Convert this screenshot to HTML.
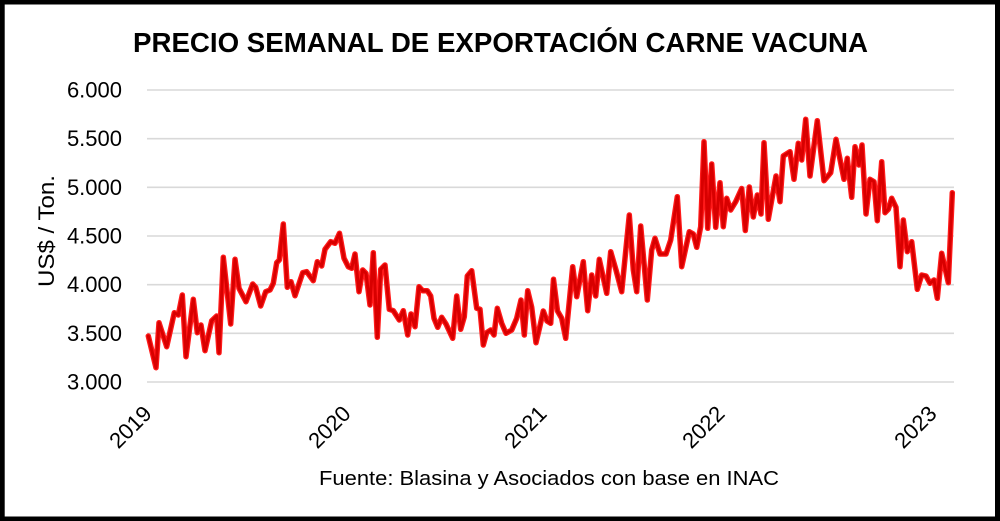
<!DOCTYPE html>
<html>
<head>
<meta charset="utf-8">
<style>
html,body{margin:0;padding:0;background:#fff;}
body{width:1000px;height:521px;overflow:hidden;}
svg{display:block;}
text{font-family:"Liberation Sans",Arial,sans-serif;fill:#000;}
</style>
</head>
<body>
<svg width="1000" height="521" viewBox="0 0 1000 521" xmlns="http://www.w3.org/2000/svg">
  <defs>
    <polyline id="series" fill="none" stroke-linejoin="round" stroke-linecap="round" points="
148.3,336 156,367.7 159,322.7 166.7,346.7 174.3,312.7 178.3,315 182.3,295 186,356.7 193.3,299.3 197.3,332.7 201,325 205,350.7 211.7,320.7 216.7,316 219,352.7 223.3,257.3 230.7,324 235,259.3 239,288.3 246,301.7 252.7,284 255.7,287.3 260.7,306 265.7,291.7 270,290 273.3,283.3 276.7,262.7 279.3,260 283.3,224 287.3,287.3 291,281.7 295,295.7 302.7,272.7 306.7,271.7 313.3,280.7 317.3,261.7 321.7,266 325,249.3 330.7,241.7 335,243.3 339.5,233.3
344,258.3 348.3,266.7 351.7,268.3 355,254 359,291.7 362.7,270 366,273.3 370,305 373.3,252.7 377.3,337.3 380.7,269.3 385,265 389.3,309.3 393.3,310.7 399.3,320 403.3,310.7 407.7,335 411,314 415,326.7 419,286.7 422.7,290.7 427.3,290.7 430.7,296 434,318.3 437.7,327.3 441.7,317.3 446,324 452.7,338.3 456.7,296 460.7,329.3 464.3,316.7 467.3,276 471.7,270.7 476.7,308.3 480,309.3 483.3,345 486.7,332.7 490.7,330 494,335 497.3,308.3 501.7,323.3 506,333.3 511.7,330 516.7,318.3 521,300 524.3,335 527.7,290.7 531.7,307.3 536,342.7 539.5,328
543.3,311 547,321 550.7,323.3 553.5,279.3 557.5,311 561.7,318.3 565.7,338.3 572.7,266.7 576.7,296.7 583.3,261.7 587.7,310.7 591.7,275 595.7,296 599.3,259.3 606.7,293.3 610.7,251.7 616,270 621.7,291.7 629.3,215 633.3,270 636.7,291.7 640.7,226 647.3,300 651.7,250 655,238.3 660,254 666,254 670.7,240 677.3,196.7 681.7,266.7 689.3,231.7 693.3,234 696.7,247.3 700.7,226.7 704,141.7 707.7,228.3 711.7,164 715.7,227.3 720,182.7 723.3,226.7 726.7,198.3 730.7,210 735.7,201.7
741.7,188.5 745.3,230.5 749.3,187 753.3,217 757.3,195 761,214 764,142.7 768.3,219.3 776,176 780,201.7 783.3,156 790,151.7 794,179.3 798.3,143.3 801.7,160 805.7,119.3 810,176 817.3,120.7 824,180.7 830.7,172.7 836,139.3 844,179.3 847.3,158.3 851.7,197.3 855,146.7 859,165 862,145 866,214 870,179.3 874,181.7 877.3,220.7 881.7,161.7 885,212.7 888.3,209.3 891.7,198.3 896,207.3 900,266.7 903.3,220 907.3,251.7 911.7,241.7 917.3,289.3 921.7,275 926,276 930,283.3 934,280 937.3,298.3 941.7,253.3 948.3,282.7 952.3,192.7"/>
  </defs>
  <rect x="0" y="0" width="1000" height="521" fill="#fff"/>

  <!-- Title -->
  <text x="133" y="52" font-size="27.5" font-weight="bold" textLength="735" lengthAdjust="spacingAndGlyphs">PRECIO SEMANAL DE EXPORTACIÓN CARNE VACUNA</text>

  <!-- Gridlines -->
  <g stroke="#d9d9d9" stroke-width="1.6">
    <line x1="147" y1="90" x2="954" y2="90"/>
    <line x1="147" y1="138.7" x2="954" y2="138.7"/>
    <line x1="147" y1="187.3" x2="954" y2="187.3"/>
    <line x1="147" y1="236" x2="954" y2="236"/>
    <line x1="147" y1="284.7" x2="954" y2="284.7"/>
    <line x1="147" y1="333.3" x2="954" y2="333.3"/>
    <line x1="147" y1="382" x2="954" y2="382"/>
  </g>

  <!-- Y tick labels -->
  <g font-size="22" text-anchor="end">
    <text x="122" y="97.5">6.000</text>
    <text x="122" y="146.2">5.500</text>
    <text x="122" y="194.8">5.000</text>
    <text x="122" y="243.5">4.500</text>
    <text x="122" y="292.2">4.000</text>
    <text x="122" y="340.8">3.500</text>
    <text x="122" y="389.5">3.000</text>
  </g>

  <!-- Y axis title -->
  <text transform="translate(54,231) rotate(-90)" font-size="22" text-anchor="middle" textLength="112" lengthAdjust="spacingAndGlyphs">US$ / Ton.</text>

  <!-- X labels -->
  <g font-size="22" text-anchor="end">
    <text transform="translate(153,415) rotate(-45)">2019</text>
    <text transform="translate(352,415) rotate(-45)">2020</text>
    <text transform="translate(548,415) rotate(-45)">2021</text>
    <text transform="translate(726,415) rotate(-45)">2022</text>
    <text transform="translate(938,415) rotate(-45)">2023</text>
  </g>

  <!-- Data series -->
  <use href="#series" stroke="#ff1a1a" stroke-width="5.5"/>
  <use href="#series" stroke="#d80000" stroke-width="3"/>

  <!-- Source note -->
  <text x="319" y="485" font-size="20" textLength="460" lengthAdjust="spacingAndGlyphs">Fuente: Blasina y Asociados con base en INAC</text>

  <!-- Black frame -->
  <rect x="0" y="0" width="1000" height="4.5" fill="#000"/>
  <rect x="0" y="516.5" width="1000" height="4.5" fill="#000"/>
  <rect x="0" y="0" width="4.7" height="521" fill="#000"/>
  <rect x="995" y="0" width="5" height="521" fill="#000"/>
</svg>
</body>
</html>
